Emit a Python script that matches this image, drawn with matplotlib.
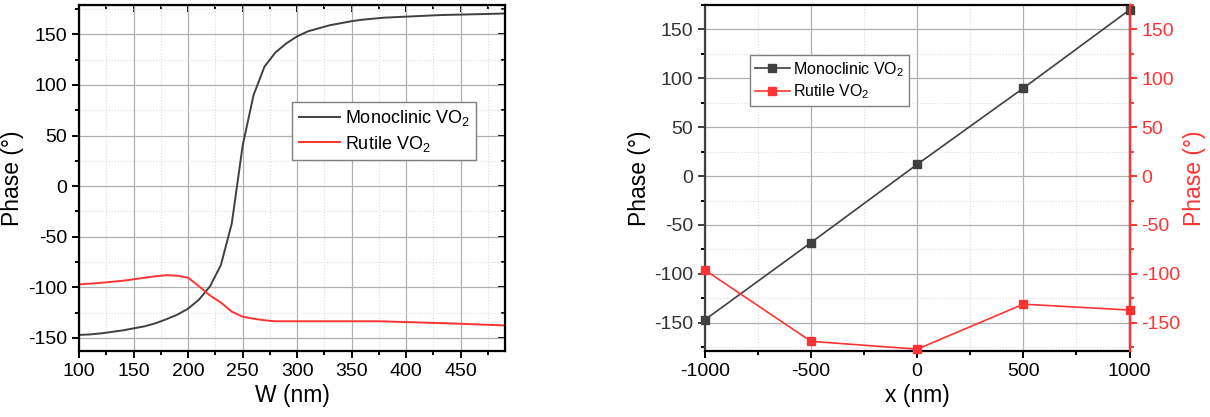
import matplotlib
matplotlib.use("Agg")
import matplotlib.pyplot as plt
from matplotlib.ticker import MultipleLocator

plt.rcParams['font.family'] = ['Liberation Sans', 'DejaVu Sans']
plt.rcParams['mathtext.default'] = 'regular'
plt.rcParams['axes.unicode_minus'] = False

# left panel: phase vs W
w_nm = [100, 110, 120, 130, 140, 150, 160, 170, 180, 190, 200, 210, 220, 230, 240,
        250, 260, 270, 280, 290, 300, 310, 320, 330, 340, 350, 360, 370, 380, 390,
        400, 410, 420, 430, 440, 450, 460, 470, 480, 490]
mono_w = [-147, -146.5, -145.5, -144, -142.5, -140.5, -138.5, -135.5, -131.5, -127,
          -121, -112, -99, -78, -37, 40, 90, 118, 132, 141, 148, 153, 156, 159, 161,
          163, 164.5, 165.5, 166.5, 167, 167.5, 168, 168.5, 169, 169.3, 169.5, 169.8,
          170, 170.3, 170.6]
rut_w = [-97, -96.3, -95.5, -94.5, -93.5, -92, -90.5, -89, -88, -88.5, -90.5, -99,
         -108, -115, -124, -129, -131, -132.5, -133.5, -133.5, -133.5, -133.5, -133.5,
         -133.5, -133.5, -133.5, -133.5, -133.5, -133.6, -134, -134.3, -134.6, -135,
         -135.3, -135.6, -136, -136.4, -136.8, -137.2, -137.6]

# right panel: phase vs x
x_nm = [-1000, -500, 0, 500, 1000]
mono_x = [-147, -68, 12, 90, 170]
rut_x = [-96, -169, -177, -131, -137]

dark = '#404040'
red = '#ff3333'
TICK_FS = 14
LAB_FS = 16.5

fig = plt.figure(figsize=(12.1, 4.17), dpi=100)


def style_grid(ax):
    ax.grid(True, which='major', color='#b0b0b0', lw=0.9)
    ax.grid(True, which='minor', color='#dcdcdc', lw=0.8, ls=':')
    ax.set_axisbelow(True)


# ---- left
ax1 = fig.add_axes([0.0655, 0.158, 0.352, 0.83])
ax1.plot(w_nm, mono_w, color=dark, lw=1.4, label='Monoclinic VO$_2$')
ax1.plot(w_nm, rut_w, color=red, lw=1.4, label='Rutile VO$_2$')
ax1.set_xlim(100, 491)
ax1.set_ylim(-163, 179)
ax1.xaxis.set_major_locator(MultipleLocator(50))
ax1.xaxis.set_minor_locator(MultipleLocator(25))
ax1.yaxis.set_major_locator(MultipleLocator(50))
ax1.yaxis.set_minor_locator(MultipleLocator(25))
style_grid(ax1)
for s in ax1.spines.values():
    s.set_linewidth(1.6)
ax1.tick_params(which='both', direction='out', labelsize=TICK_FS, width=1.4)
ax1.tick_params(which='major', length=5)
ax1.tick_params(which='minor', length=3)
ax1.set_xlabel('W (nm)', fontsize=LAB_FS, labelpad=3)
ax1.set_ylabel('Phase (°)', fontsize=LAB_FS, labelpad=3)
# inward ticks on top/right
ax1t = ax1.secondary_xaxis('top')
ax1t.xaxis.set_major_locator(MultipleLocator(50))
ax1t.xaxis.set_minor_locator(MultipleLocator(25))
ax1t.tick_params(which='both', direction='in', labeltop=False, width=1.4)
ax1t.tick_params(which='major', length=5)
ax1t.tick_params(which='minor', length=3)
ax1r = ax1.secondary_yaxis('right')
ax1r.yaxis.set_major_locator(MultipleLocator(50))
ax1r.yaxis.set_minor_locator(MultipleLocator(25))
ax1r.tick_params(which='both', direction='in', labelright=False, width=1.4)
ax1r.tick_params(which='major', length=5)
ax1r.tick_params(which='minor', length=3)
leg1 = ax1.legend(loc='upper left', bbox_to_anchor=(0.5, 0.72), fontsize=13,
                  frameon=True, fancybox=False, framealpha=1, edgecolor='#808080',
                  handlelength=2.3, handletextpad=0.25, borderpad=0.35,
                  labelspacing=0.3, borderaxespad=0)
leg1.get_frame().set_linewidth(1.0)

# ---- right
ax2 = fig.add_axes([0.5825, 0.158, 0.351, 0.83])
l1, = ax2.plot(x_nm, mono_x, color=dark, lw=1.2, marker='s', ms=5.5,
               label='Monoclinic VO$_2$', clip_on=False, zorder=3)
ax2.set_xlim(-1000, 1000)
ax2.set_ylim(-179, 175)
ax2.xaxis.set_major_locator(MultipleLocator(500))
ax2.xaxis.set_minor_locator(MultipleLocator(250))
ax2.yaxis.set_major_locator(MultipleLocator(50))
ax2.yaxis.set_minor_locator(MultipleLocator(25))
style_grid(ax2)
ax2.spines['left'].set_color(dark)
for s in ax2.spines.values():
    s.set_linewidth(1.6)
ax2.tick_params(which='both', direction='out', labelsize=TICK_FS, width=1.4)
ax2.tick_params(axis='y', colors=dark, labelcolor='#333333')
ax2.tick_params(which='major', length=5)
ax2.tick_params(which='minor', length=3)
ax2.set_xlabel('x (nm)', fontsize=LAB_FS, labelpad=3)
ax2.set_ylabel('Phase (°)', fontsize=LAB_FS, labelpad=2)

ax3 = ax2.twinx()
l2, = ax3.plot(x_nm, rut_x, color=red, lw=1.2, marker='s', ms=5.5,
               label='Rutile VO$_2$', clip_on=False, zorder=3)
ax3.set_ylim(-179, 175)
ax3.yaxis.set_major_locator(MultipleLocator(50))
ax3.yaxis.set_minor_locator(MultipleLocator(25))
ax3.spines['right'].set_color(red)
ax3.spines['right'].set_linewidth(1.6)
for side in ('left', 'top', 'bottom'):
    ax3.spines[side].set_visible(False)
ax3.tick_params(which='both', direction='out', colors=red, labelsize=TICK_FS, width=1.4)
ax3.tick_params(which='major', length=5)
ax3.tick_params(which='minor', length=3)
ax3.set_ylabel('Phase (°)', fontsize=LAB_FS, color=red, labelpad=2)

leg2 = ax2.legend(handles=[l1, l2], loc='upper left', bbox_to_anchor=(0.106, 0.855),
                  fontsize=11.5, frameon=True, fancybox=False, framealpha=1,
                  edgecolor='#808080', handlelength=2.2, borderpad=0.3,
                  labelspacing=0.25, handletextpad=0.2, borderaxespad=0)
leg2.get_frame().set_linewidth(1.0)
leg2.set_zorder(5)

fig.savefig('out.png', dpi=100)
